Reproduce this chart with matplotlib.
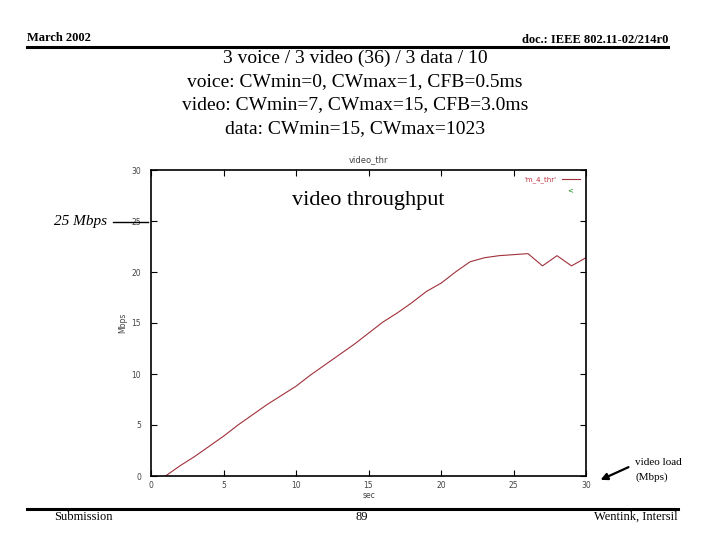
import matplotlib.pyplot as plt

# video throughput (Mbps) vs offered load / time axis (sec)
sec = [1, 2, 3, 4, 5, 6, 7, 8, 9, 10, 11, 12, 13, 14, 15, 16, 17, 18, 19, 20,
       21, 22, 23, 24, 25, 26, 27, 28, 29, 30]
mbps = [0.0, 1.0, 1.9, 2.9, 3.9, 5.0, 6.0, 7.0, 7.9, 8.8, 9.9, 10.9, 11.9, 12.9, 14.0,
        15.1, 16.0, 17.0, 18.1, 18.9, 20.0, 21.0, 21.4, 21.6, 21.7, 21.8, 20.6, 21.6, 20.6, 21.4]

x_ticks = [0, 5, 10, 15, 20, 25, 30]
y_ticks = [0, 5, 10, 15, 20, 25, 30]

title_lines = ["3 voice / 3 video (36) / 3 data / 10",
               "voice: CWmin=0, CWmax=1, CFB=0.5ms",
               "video: CWmin=7, CWmax=15, CFB=3.0ms",
               "data: CWmin=15, CWmax=1023"]

serif = "Liberation Serif"
W, H = 720, 540

fig = plt.figure(figsize=(7.2, 5.4), dpi=100)


def fx(px):
    return px / W


def fy(py):
    return 1 - py / H


# slide header
fig.text(fx(27), fy(38), "March 2002", family=serif, fontsize=9, fontweight="bold", va="center")
fig.text(fx(668), fy(40), "doc.: IEEE 802.11-02/214r0", family=serif, fontsize=9,
         fontweight="bold", va="center", ha="right")
fig.add_artist(plt.Line2D([fx(27), fx(668)], [fy(47), fy(47)], color="black", lw=2.2))

for i, line in enumerate(title_lines):
    fig.text(fx(355), fy(58 + i * 23.5), line, family=serif, fontsize=14, ha="center", va="center")

# plot
ax = fig.add_axes([fx(151), fy(476), fx(586) - fx(151), fy(170) - fy(476)])
ax.plot(sec, mbps, color="#a0303a", lw=0.8, label="'m_4_thr'")
ax.set_xlim(0, 30)
ax.set_ylim(0, 30)
ax.set_xticks(x_ticks)
ax.set_yticks(y_ticks)
ax.tick_params(direction="in", top=True, right=True, labelsize=5.5, labelcolor="#444444",
               length=4, width=0.8)
ax.tick_params(axis="y", pad=7)
for s in ax.spines.values():
    s.set_linewidth(1.2)
ax.set_title("video_thr", fontsize=6, color="#444444", pad=6)
ax.set_xlabel("sec", fontsize=5.5, color="#444444", labelpad=1)
ax.set_ylabel("Mbps", fontsize=5.5, color="#444444", labelpad=3)

leg = ax.legend(loc="upper right", fontsize=5, frameon=False, handlelength=2.5,
                labelcolor="#c03040", borderaxespad=0.5, markerfirst=False)
ax.text(0.963, 0.935, "<", transform=ax.transAxes, fontsize=5, color="green", ha="center", va="center")

ax.text(0.5, 0.9, "video throughput", transform=ax.transAxes, family=serif, fontsize=16,
        ha="center", va="center")

# 25 Mbps marker
fig.text(fx(80), fy(222), "25 Mbps", family=serif, fontsize=11, style="italic", ha="center", va="center")
fig.add_artist(plt.Line2D([fx(113), fx(148)], [fy(222), fy(222)], color="black", lw=1))

# video load annotation
fig.text(fx(635), fy(470), "video load\n(Mbps)", family=serif, fontsize=8, ha="left", va="center",
         linespacing=1.6)
fig.add_artist(plt.Annotation("", xy=(fx(598), fy(481)), xytext=(fx(631), fy(466)),
                              xycoords="figure fraction", textcoords="figure fraction",
                              arrowprops=dict(arrowstyle="-|>", color="black", lw=1.6,
                                              mutation_scale=10)))

# footer
fig.add_artist(plt.Line2D([fx(27), fx(678)], [fy(509), fy(509)], color="black", lw=2.2))
fig.text(fx(83), fy(517), "Submission", family=serif, fontsize=9, ha="center", va="center")
fig.text(fx(362), fy(517), "89", family=serif, fontsize=9, ha="center", va="center")
fig.text(fx(678), fy(517), "Wentink, Intersil", family=serif, fontsize=9, ha="right", va="center")

fig.savefig("out.png", dpi=100)
